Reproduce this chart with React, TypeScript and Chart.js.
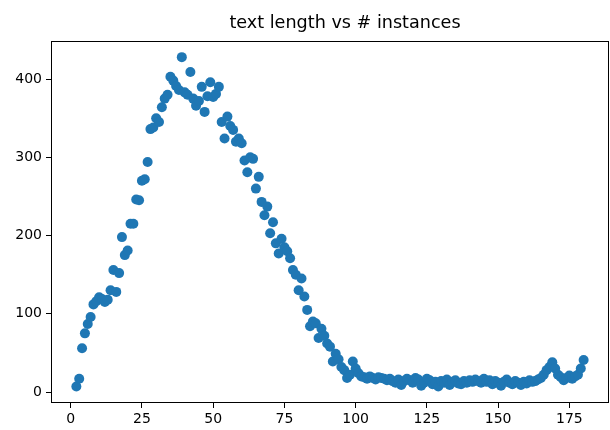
import React, { useEffect, useRef } from "react";
import { Chart, registerables } from "chart.js";

Chart.register(...registerables);

const TITLE = "text length vs # instances";

const textLengths = [
  2, 3, 4, 5, 6, 7, 8, 9, 10, 11,
  12, 13, 14, 15, 16, 17, 18, 19, 20, 21,
  22, 23, 24, 25, 26, 27, 28, 29, 30, 31,
  32, 33, 34, 35, 36, 37, 38, 39, 40, 41,
  42, 43, 44, 45, 46, 47, 48, 49, 50, 51,
  52, 53, 54, 55, 56, 57, 58, 59, 60, 61,
  62, 63, 64, 65, 66, 67, 68, 69, 70, 71,
  72, 73, 74, 75, 76, 77, 78, 79, 80, 81,
  82, 83, 84, 85, 86, 87, 88, 89, 90, 91,
  92, 93, 94, 95, 96, 97, 98, 99, 100, 101,
  102, 103, 104, 105, 106, 107, 108, 109, 110, 111,
  112, 113, 114, 115, 116, 117, 118, 119, 120, 121,
  122, 123, 124, 125, 126, 127, 128, 129, 130, 131,
  132, 133, 134, 135, 136, 137, 138, 139, 140, 141,
  142, 143, 144, 145, 146, 147, 148, 149, 150, 151,
  152, 153, 154, 155, 156, 157, 158, 159, 160, 161,
  162, 163, 164, 165, 166, 167, 168, 169, 170, 171,
  172, 173, 174, 175, 176, 177, 178, 179, 180,
];

const instanceCounts = [
  7, 17, 56, 75, 87, 96, 112, 116, 121, 119,
  115, 118, 130, 156, 128, 152, 198, 175, 181, 215,
  215, 246, 245, 270, 272, 294, 336, 338, 350, 345,
  364, 375, 380, 403, 398, 391, 386, 428, 383, 380,
  409, 375, 366, 372, 390, 358, 378, 396, 377, 381,
  390, 345, 324, 352, 340, 335, 320, 324, 318, 296,
  281, 300, 298, 260, 275, 243, 226, 237, 203, 217,
  190, 177, 196, 185, 180, 171, 156, 150, 130, 145,
  122, 105, 84, 90, 88, 69, 81, 72, 62, 58,
  39, 49, 42, 32, 28, 18, 22, 39, 30, 24,
  20, 19, 17, 20, 18, 16, 19, 18, 17, 15,
  17, 14, 12, 16, 9, 14, 17, 15, 12, 18,
  16, 8, 12, 17, 15, 10, 13, 7, 14, 12,
  16, 9, 13, 15, 11, 10, 14, 12, 15, 13,
  16, 14, 12, 17, 13, 15, 10, 14, 12, 8,
  13, 16, 12, 10, 14, 12, 9, 13, 11, 15,
  13, 14, 16, 18, 22, 28, 32, 38, 30, 22,
  19, 15, 18, 21, 17, 20, 22, 30, 41,
];

const xTicks = [0, 25, 50, 75, 100, 125, 150, 175];
const yTicks = [0, 100, 200, 300, 400];

const X_MIN = -6.9;
const X_MAX = 188.9;
const Y_MIN = -14;
const Y_MAX = 449;

const FONT = "'DejaVu Sans', 'Liberation Sans', sans-serif";

const framePlugin = {
  id: "frame",
  afterDraw(chart: any) {
    const { ctx, chartArea } = chart;
    const l = Math.round(chartArea.left) + 0.5;
    const t = Math.round(chartArea.top) + 0.5;
    const r = Math.round(chartArea.right) - 0.5;
    const b = Math.round(chartArea.bottom) - 0.5;
    ctx.save();
    ctx.strokeStyle = "#000";
    ctx.lineWidth = 1;
    ctx.strokeRect(l, t, r - l, b - t);
    ctx.fillStyle = "#000";
    ctx.font = `17.6px ${FONT}`;
    ctx.textAlign = "center";
    ctx.textBaseline = "alphabetic";
    ctx.fillText(TITLE, 345, 28);
    ctx.restore();
  },
};

export default function App() {
  const canvasRef = useRef<HTMLCanvasElement | null>(null);

  useEffect(() => {
    const canvas = canvasRef.current;
    if (!canvas) return;
    const points = textLengths.map((x, i) => ({ x, y: instanceCounts[i] }));
    const chart = new Chart(canvas, {
      type: "scatter",
      data: {
        datasets: [
          {
            data: points,
            backgroundColor: "#1f77b4",
            borderWidth: 0,
            pointRadius: 5,
            pointHoverRadius: 5,
          },
        ],
      },
      options: {
        animation: false,
        responsive: false,
        devicePixelRatio: 1,
        layout: { autoPadding: false, padding: { left: 0, right: 1, top: 40.7, bottom: 0 } },
        plugins: {
          legend: { display: false },
          tooltip: { enabled: false },
          title: { display: false },
        },
        scales: {
          x: {
            type: "linear",
            min: X_MIN,
            max: X_MAX,
            border: { display: false },
            grid: {
              display: true,
              drawOnChartArea: false,
              drawTicks: true,
              tickLength: 5,
              color: "#000",
              lineWidth: 1,
            },
            ticks: {
              includeBounds: false,
              color: "#000",
              padding: 3,
              maxRotation: 0,
              font: { family: FONT, size: 14 },
            },
            afterBuildTicks: (scale: any) => {
              scale.ticks = xTicks.map((v) => ({ value: v }));
            },
            afterFit: (scale: any) => {
              scale.height = 27;
              scale.paddingLeft = 0;
              scale.paddingRight = 0;
            },
          },
          y: {
            type: "linear",
            min: Y_MIN,
            max: Y_MAX,
            border: { display: false },
            grid: {
              display: true,
              drawOnChartArea: false,
              drawTicks: true,
              tickLength: 5,
              color: "#000",
              lineWidth: 1,
            },
            ticks: {
              includeBounds: false,
              color: "#000",
              padding: 4,
              font: { family: FONT, size: 14 },
            },
            afterBuildTicks: (scale: any) => {
              scale.ticks = yTicks.map((v) => ({ value: v }));
            },
            afterFit: (scale: any) => {
              scale.width = 51;
              scale.paddingTop = 0;
              scale.paddingBottom = 0;
            },
          },
        },
      },
      plugins: [framePlugin],
    });
    return () => chart.destroy();
  }, []);

  return (
    <div style={{ position: "absolute", left: 0, top: 0, width: 610, height: 430, background: "#fff" }}>
      <canvas ref={canvasRef} width={610} height={430} style={{ display: "block", width: 610, height: 430 }} />
    </div>
  );
}
